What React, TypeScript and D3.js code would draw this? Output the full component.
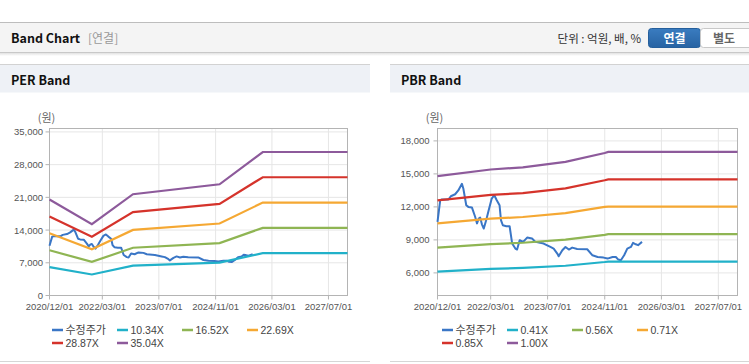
import React from "react";
import * as d3 from "d3";

// x axis ticks (shared by both panels)
const tickDates = ["2020-12-01", "2022-03-01", "2023-07-01", "2024-11-01", "2026-03-01", "2027-07-01"];
const tickLabels = ["2020/12/01", "2022/03/01", "2023/07/01", "2024/11/01", "2026/03/01", "2027/07/01"];
const xStart = "2020-12-01";
const xEnd = "2027-12-12";

// adjusted close price (수정주가)
const priceDates = [
  "2020-12-01", "2020-12-24", "2021-01-07", "2021-03-04", "2021-03-25", "2021-05-01", "2021-05-28",
  "2021-06-28", "2021-07-10", "2021-08-04", "2021-08-22", "2021-09-22", "2021-10-19", "2021-11-04",
  "2021-11-19", "2021-12-01", "2021-12-16", "2022-01-01", "2022-01-22", "2022-02-12", "2022-03-10",
  "2022-04-01", "2022-04-22", "2022-05-16", "2022-05-28", "2022-06-13", "2022-07-13", "2022-08-10",
  "2022-09-01", "2022-09-28", "2022-10-13", "2022-11-04", "2022-12-04", "2023-01-07", "2023-02-18",
  "2023-03-19", "2023-05-28", "2023-07-25", "2023-08-22", "2023-09-22", "2023-10-04", "2023-11-04",
  "2023-12-01", "2023-12-30", "2024-01-28", "2024-03-10", "2024-06-04", "2024-07-19", "2024-09-01",
  "2024-10-22", "2024-11-25", "2025-01-07", "2025-02-04", "2025-02-25", "2025-03-19", "2025-04-16",
  "2025-05-13", "2025-06-13", "2025-07-01", "2025-07-25", "2025-08-13", "2025-09-16",
];
const priceValues = [
  10640, 12600, 12670, 12670, 12970, 13150, 13500,
  14100, 13670, 12150, 12000, 11940, 11100, 10500,
  10940, 11030, 10420, 10030, 10800, 11700, 12760,
  13060, 12600, 12150, 10800, 10330, 10240, 10240,
  8670, 8210, 8120, 8970, 8820, 9210, 9120,
  8820, 8670, 8360, 8210, 7760, 7510, 8060,
  8360, 8120, 8300, 8180, 8150, 7600, 7450,
  7390, 7300, 7450, 7450, 7210, 7150, 7600,
  8210, 8360, 8730, 8600, 8520, 8820,
];

// PER band
const perDates = ["2020-12-01", "2021-12-01", "2022-11-20", "2024-12-05", "2025-12-12", "2027-12-12"];
const perLabels = ["10.34X", "16.52X", "22.69X", "28.87X", "35.04X"];
const per1034 = [6060, 4500, 6390, 7020, 9060, 9060];
const per1652 = [9680, 7190, 10220, 11220, 14470, 14470];
const per2269 = [13300, 9880, 14030, 15410, 19880, 19880];
const per2887 = [16900, 12570, 17850, 19600, 25300, 25300];
const per3504 = [20540, 15250, 21670, 23800, 30700, 30700];
const perYTicks = [0, 7000, 14000, 21000, 28000, 35000];

// PBR band
const pbrDates = ["2020-12-01", "2022-03-01", "2022-12-01", "2023-12-01", "2024-11-01", "2024-12-01", "2027-12-12"];
const pbrLabels = ["0.41X", "0.56X", "0.71X", "0.85X", "1.00X"];
const pbr041 = [6120, 6360, 6450, 6650, 6990, 7030, 7030];
const pbr056 = [8290, 8620, 8740, 9020, 9460, 9520, 9520];
const pbr071 = [10510, 10930, 11080, 11430, 12000, 12030, 12030];
const pbr085 = [12600, 13090, 13260, 13690, 14420, 14500, 14500];
const pbr100 = [14800, 15400, 15600, 16100, 16900, 17000, 17000];
const pbrYTicks = [6000, 9000, 12000, 15000, 18000];

const priceColor = "#3a76c6";
const bandColors = ["#21b1c9", "#8fb553", "#f5a833", "#d5332b", "#8d5a9b"];

const parse = d3.timeParse("%Y-%m-%d");
const numFmt = d3.format(",");
const FONT = "'Liberation Sans', Arial, sans-serif";
const KFONT = "'Noto Sans CJK KR', 'Noto Sans', sans-serif";

type PanelProps = {
  px: number; // panel left
  title: string;
  left: number;
  right: number;
  yDomain: [number, number];
  yTicks: number[];
  labelGap: number;
  bandDates: string[];
  bands: number[][];
  labels: string[];
  legendX: number;
};

function Panel(p: PanelProps) {
  const top = 128.5;
  const bottom = 295.5;
  const x = d3.scaleTime().domain([parse(xStart)!, parse(xEnd)!]).range([p.left, p.right]);
  const y = d3.scaleLinear().domain(p.yDomain).range([bottom, top]);
  const line = d3
    .line<[Date, number]>()
    .x((d) => x(d[0]))
    .y((d) => y(d[1]));
  const pricePts: [Date, number][] = priceDates.map((d, i) => [parse(d)!, priceValues[i]]);
  const bandPts = p.bands.map((b) => b.map((v, i) => [parse(p.bandDates[i])!, v] as [Date, number]));

  const legendItems = [{ label: "수정주가", color: priceColor }].concat(
    p.labels.map((l, i) => ({ label: l, color: bandColors[i] }))
  );

  return (
    <g>
      {/* panel header */}
      <rect x={p.px} y={64} width={p.px === 0 ? 370 : 359} height={28.5} fill="#eef1f6" />
      <line x1={p.px} x2={p.px + (p.px === 0 ? 370 : 359)} y1={64.5} y2={64.5} stroke="#d2d2d2" />
      <text x={p.px + 11} y={84.5} fontFamily={KFONT} fontWeight="bold" fontSize={12.5} fill="#111">
        {p.title}
      </text>
      <line x1={p.px} x2={p.px + (p.px === 0 ? 370 : 359)} y1={361.5} y2={361.5} stroke="#d6d6d6" />

      {/* unit label */}
      <text x={p.left - 3} y={122} fontFamily={KFONT} fontSize={11} fill="#666" textAnchor="middle">
        (원)
      </text>

      {/* grid */}
      {p.yTicks.map((t) => (
        <line key={"gy" + t} x1={p.left} x2={p.right} y1={y(t)} y2={y(t)} stroke="#e6e6e6" />
      ))}
      {tickDates.map((d) => (
        <line key={"gx" + d} x1={x(parse(d)!)} x2={x(parse(d)!)} y1={top} y2={bottom} stroke="#e6e6e6" />
      ))}

      {/* plot frame */}
      <rect x={p.left} y={top} width={p.right - p.left} height={bottom - top} fill="none" stroke="#b4b4b4" />

      {/* y ticks */}
      {p.yTicks.map((t) => (
        <g key={"ty" + t}>
          <line x1={p.left - 4} x2={p.left} y1={y(t)} y2={y(t)} stroke="#b4b4b4" />
          <text
            x={p.left - p.labelGap}
            y={y(t) + 3.5}
            textAnchor="end"
            fontFamily={FONT}
            fontSize={9.5}
            fill="#555"
          >
            {numFmt(t)}
          </text>
        </g>
      ))}

      {/* x ticks */}
      {tickDates.map((d, i) => (
        <g key={"tx" + d}>
          <line x1={x(parse(d)!)} x2={x(parse(d)!)} y1={bottom} y2={bottom + 4} stroke="#b4b4b4" />
          <text x={x(parse(d)!)} y={310} textAnchor="middle" fontFamily={FONT} fontSize={9.5} fill="#555">
            {tickLabels[i]}
          </text>
        </g>
      ))}

      {/* series */}
      <path d={line(pricePts) || ""} fill="none" stroke={priceColor} strokeWidth={2} strokeLinejoin="round" />
      {bandPts.map((pts, i) => (
        <path key={"b" + i} d={line(pts) || ""} fill="none" stroke={bandColors[i]} strokeWidth={2.2} />
      ))}

      {/* legend */}
      {legendItems.map((it, i) => {
        const col = i % 4;
        const row = Math.floor(i / 4);
        const lx = p.legendX + col * 65;
        const ly = 330 + row * 13;
        return (
          <g key={"lg" + i}>
            <line x1={lx} x2={lx + 11} y1={ly} y2={ly} stroke={it.color} strokeWidth={2.5} />
            <text
              x={lx + 13.5}
              y={ly + 4}
              fontFamily={i === 0 ? KFONT : FONT}
              fontSize={i === 0 ? 11 : 10.5}
              fill="#444"
            >
              {it.label}
            </text>
          </g>
        );
      })}
    </g>
  );
}

export default function App() {
  return (
    <svg
      width={749}
      height={364}
      style={{ position: "absolute", left: 0, top: 0, background: "#fff" }}
    >
      <defs>
        <linearGradient id="shadow" x1="0" x2="0" y1="0" y2="1">
          <stop offset="0" stopColor="#d8d8d8" />
          <stop offset="1" stopColor="#ffffff" />
        </linearGradient>
        <linearGradient id="btn" x1="0" x2="0" y1="0" y2="1">
          <stop offset="0" stopColor="#3a7cc0" />
          <stop offset="1" stopColor="#2763a3" />
        </linearGradient>
      </defs>

      {/* top header bar */}
      <rect x={0} y={22} width={749} height={30} fill="#f4f4f4" />
      <line x1={0} x2={749} y1={22.5} y2={22.5} stroke="#bdbdbd" />
      <rect x={0} y={52} width={749} height={4} fill="url(#shadow)" />
      <line x1={0} x2={749} y1={52.5} y2={52.5} stroke="#c8c8c8" />
      <text x={11} y={42.5} fontFamily={KFONT} fontWeight="bold" fontSize={12.5} fill="#111">
        Band Chart
      </text>
      <text x={88} y={42.5} fontFamily={KFONT} fontSize={12} fill="#999">
        [연결]
      </text>
      <text x={641} y={42.5} textAnchor="end" fontFamily={KFONT} fontSize={11.5} fill="#333">
        단위 : 억원, 배, %
      </text>
      <rect x={648.5} y={28.5} width={52} height={19} rx={3} fill="url(#btn)" stroke="#255f9c" />
      <text x={674.5} y={42.5} textAnchor="middle" fontFamily={KFONT} fontWeight="bold" fontSize={12} fill="#fff">
        연결
      </text>
      <rect x={700.5} y={28.5} width={52} height={19} rx={3} fill="#fff" stroke="#c8c8c8" />
      <text x={724} y={42.5} textAnchor="middle" fontFamily={KFONT} fontWeight="bold" fontSize={12} fill="#666">
        별도
      </text>

      <Panel
        px={0}
        title="PER Band"
        left={49.5}
        right={347.5}
        yDomain={[0, 35730]}
        yTicks={perYTicks}
        labelGap={6.5}
        bandDates={perDates}
        bands={[per1034, per1652, per2269, per2887, per3504]}
        labels={perLabels}
        legendX={52}
      />
      <Panel
        px={390}
        title="PBR Band"
        left={437.5}
        right={737.5}
        yDomain={[3945, 19127]}
        yTicks={pbrYTicks}
        labelGap={8}
        bandDates={pbrDates}
        bands={[pbr041, pbr056, pbr071, pbr085, pbr100]}
        labels={pbrLabels}
        legendX={442}
      />
    </svg>
  );
}
